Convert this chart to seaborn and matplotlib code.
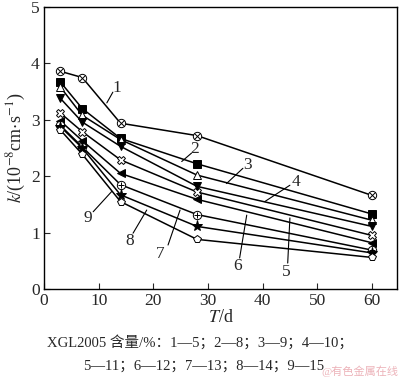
import pandas as pd
import seaborn as sns
import matplotlib.pyplot as plt

sns.set_style("ticks")
plt.rcParams['font.family'] = ['Liberation Serif', 'Noto Sans CJK SC']
plt.rcParams['mathtext.fontset'] = 'stix'

# Data
days = [3, 7, 14, 28, 60]
k1 = [3.86, 3.75, 2.94, 2.72, 1.66]
k2 = [3.67, 3.20, 2.67, 2.22, 1.33]
k3 = [3.58, 3.08, 2.65, 2.02, 1.22]
k4 = [3.38, 2.96, 2.53, 1.82, 1.11]
k5 = [3.12, 2.79, 2.29, 1.72, 0.95]
k6 = [2.98, 2.63, 2.05, 1.59, 0.82]
k7 = [2.90, 2.52, 1.85, 1.32, 0.69]
k8 = [2.88, 2.50, 1.67, 1.11, 0.64]
k9 = [2.82, 2.39, 1.55, 0.88, 0.56]
series = [k1, k2, k3, k4, k5, k6, k7, k8, k9]
curve_ids = ['1', '2', '3', '4', '5', '6', '7', '8', '9']

rows = []
for cid, vals in zip(curve_ids, series):
    for d, v in zip(days, vals):
        rows.append({'T': d, 'k': v, 'curve': cid})
df = pd.DataFrame(rows)

# marker, filled?, overlay marker (for circle-cross / circle-plus)
styles = {
    '1': ('o', False, 'x'),
    '2': ('s', True, None),
    '3': ('^', False, None),
    '4': ('v', True, None),
    '5': ('X', False, None),
    '6': ('<', True, None),
    '7': ('o', False, '+'),
    '8': ('*', True, None),
    '9': ('p', False, None),
}

fig = plt.figure(figsize=(4.0, 3.77), dpi=100)
ax = fig.add_axes([0.11, 0.2334, 0.8825, 0.748])

for cid in curve_ids:
    m, filled, over = styles[cid]
    sub = df[df['curve'] == cid]
    size = 8 if m == '*' else 6
    sns.lineplot(data=sub, x='T', y='k', ax=ax, color='black', lw=1.1,
                 marker=m, markersize=size,
                 markerfacecolor='black' if filled else 'white',
                 markeredgecolor='black', markeredgewidth=0.7,
                 legend=False)
    if over:
        sns.scatterplot(data=sub, x='T', y='k', ax=ax, marker=over, s=18,
                        color='black', linewidth=0.7, legend=False, zorder=5)

# curve labels with leader lines
labels = {
    '1': ((13.3, 3.56), (11.5, 3.30), (12.6, 3.49)),
    '2': ((27.6, 2.48), (25.2, 2.26), (27.0, 2.41)),
    '3': ((37.3, 2.20), (33.4, 1.87), (36.4, 2.14)),
    '4': ((46.2, 1.90), (40.4, 1.55), (45.0, 1.84)),
    '5': ((44.4, 0.31), (45.0, 1.26), (44.6, 0.46)),
    '6': ((35.5, 0.40), (37.1, 1.31), (35.8, 0.55)),
    '7': ((21.2, 0.62), (24.9, 1.40), (22.7, 0.78)),
    '8': ((15.6, 0.85), (18.8, 1.40), (16.3, 0.99)),
    '9': ((8.1, 1.26), (12.4, 1.73), (9.0, 1.37)),
}
for cid, (txt, p0, p1) in labels.items():
    ax.plot([p0[0], p1[0]], [p0[1], p1[1]], color='black', lw=0.8)
    ax.text(txt[0], txt[1], cid, fontsize=12.5, ha='center', va='center')

ax.set_xlim(0, 64.6)
ax.set_ylim(0, 5)
ax.set_xticks([0, 10, 20, 30, 40, 50, 60])
ax.set_yticks([0, 1, 2, 3, 4, 5])
ax.tick_params(direction='in', labelsize=12.5, length=4, width=0.8, pad=3)
for sp in ax.spines.values():
    sp.set_linewidth(1.0)
    sp.set_color('black')
ax.set_xlabel(r'$T$/d', fontsize=13, labelpad=0)
ax.set_ylabel(r'$k$/(10$^{-8}$cm$\cdot$s$^{-1}$)', fontsize=13, labelpad=2)

fig.text(0.5, 1 - 342 / 377, 'XGL2005 含量/%：1—5；2—8；3—9；4—10；',
         ha='center', va='center', fontsize=10.5)
fig.text(0.51, 1 - 366 / 377, '5—11；6—12；7—13；8—14；9—15',
         ha='center', va='center', fontsize=10.5)
fig.text(0.995, 1 - 371 / 377, '@有色金属在线', ha='right', va='center',
         fontsize=8, color='#e8a0a8', alpha=0.8)

plt.savefig('out.png', dpi=100)
plt.close()
